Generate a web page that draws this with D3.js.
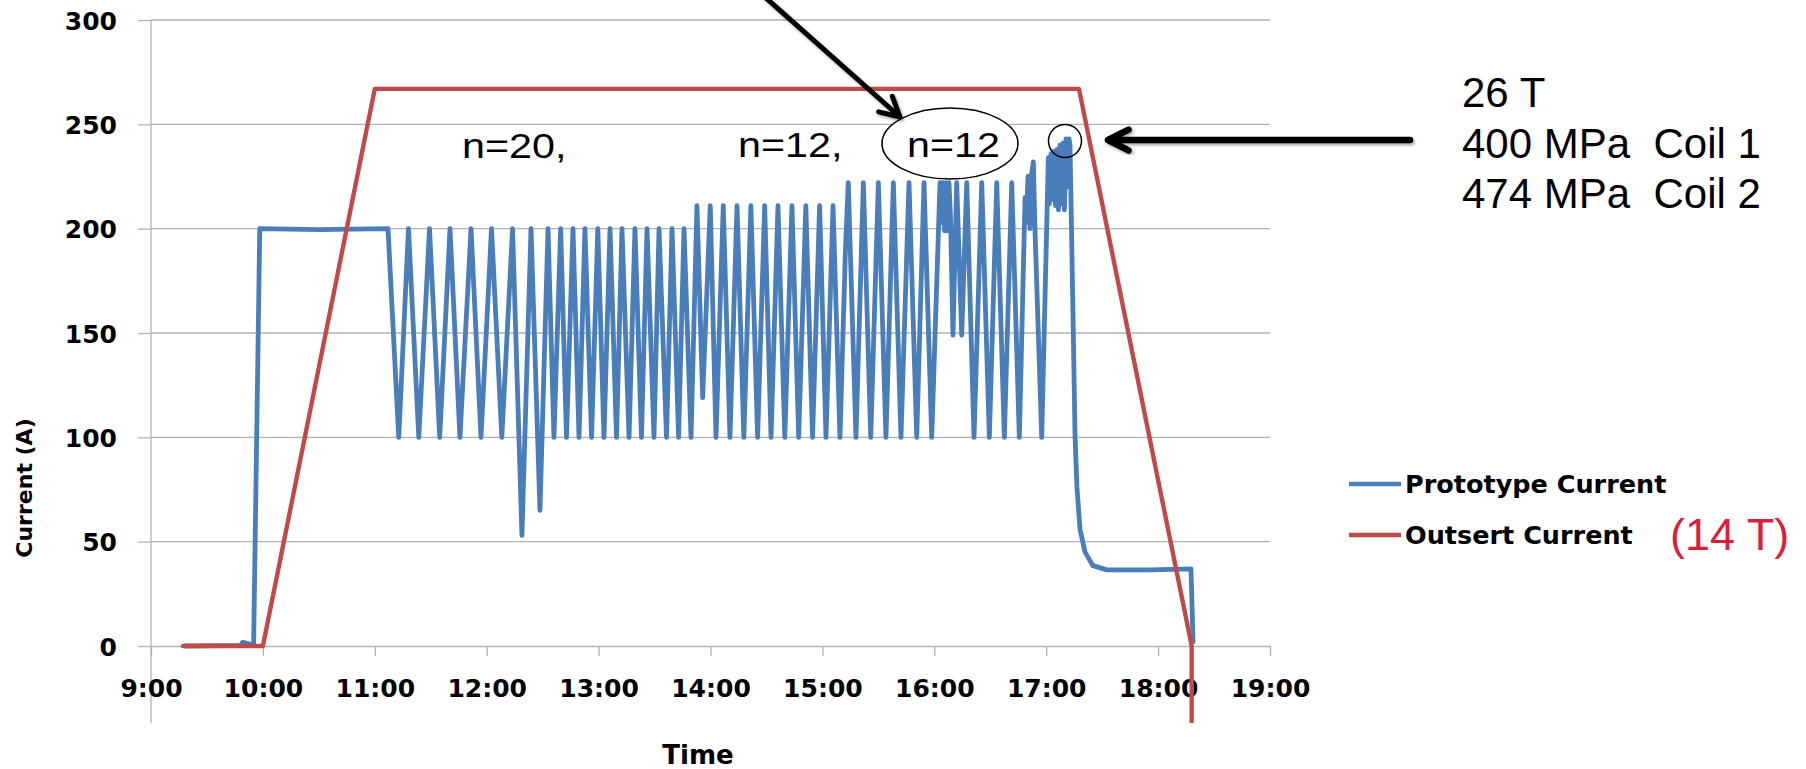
<!DOCTYPE html>
<html>
<head>
<meta charset="utf-8">
<script src="https://cdn.jsdelivr.net/npm/d3@7"></script>
<style>
  body { margin: 0; background: #fff; }
  svg { display: block; }
</style>
</head>
<body>
<div id="chart"></div>
<script>
// time of day in decimal hours, current in A
const protoTime = [
  9.304, 9.800, 9.820, 9.890, 9.917, 9.972, 10.5, 11.118,
  11.214, 11.301, 11.393, 11.489, 11.580, 11.672, 11.761, 11.860, 11.949, 12.043,
  12.135, 12.231, 12.315, 12.396, 12.476, 12.548, 12.601, 12.661, 12.713, 12.771,
  12.825, 12.878, 12.937, 12.993, 13.048, 13.102, 13.160, 13.209, 13.272, 13.325,
  13.383, 13.433, 13.495, 13.540, 13.607, 13.656, 13.715, 13.763, 13.826,
  13.879, 13.930, 13.998, 14.049, 14.114, 14.174, 14.237, 14.298, 14.361, 14.421, 14.484,
  14.541, 14.603, 14.664, 14.728, 14.788, 14.852, 14.912, 14.975, 15.032, 15.095, 15.157,
  15.206, 15.231, 15.300, 15.366, 15.432, 15.500, 15.568, 15.634, 15.702, 15.774, 15.843, 15.908, 15.977,
  16.051, 16.064, 16.078, 16.091, 16.105, 16.118, 16.131, 16.145, 16.167, 16.200, 16.245, 16.290,
  16.355, 16.424, 16.492, 16.558, 16.626, 16.692, 16.760,
  16.811, 16.824, 16.837, 16.855, 16.869, 16.885, 16.900, 16.960,
  17.019, 17.030, 17.043, 17.057, 17.070, 17.083, 17.097, 17.110, 17.123, 17.137, 17.150, 17.163, 17.177, 17.190, 17.204,
  17.213, 17.239, 17.258, 17.275, 17.302, 17.347, 17.418, 17.543, 17.928, 18.294, 18.312
];
const protoCurrent = [
  0, 0.3, 1.8, 0.8, 0.5, 200, 199.5, 200,
  100, 200, 100, 200, 100, 200, 100, 200, 100, 200,
  100, 200, 53, 200, 65, 200, 100, 200, 100, 200,
  100, 200, 100, 200, 100, 200, 100, 200, 100, 200,
  100, 200, 100, 200, 100, 200, 100, 200, 100,
  211, 119, 211, 100, 211, 100, 211, 100, 211, 100, 211,
  100, 211, 100, 211, 100, 211, 100, 211, 100, 211, 100,
  190, 222, 100, 222, 100, 222, 100, 222, 100, 222, 100, 222, 100,
  222, 203, 222, 199, 222, 199, 222, 205, 149, 222, 149, 222,
  100, 222, 100, 222, 100, 222, 100,
  215, 203, 225, 200, 226, 232, 199, 100,
  234, 212, 236, 214, 237, 211, 238, 209, 240, 212, 241, 209, 243, 220, 243,
  240, 160, 100, 76, 56, 45, 38.5, 36.5, 36.5, 37, 2
];
const outsertTime = [9.286, 10.0, 11.0, 17.293, 18.30, 18.30];
const outsertCurrent = [0, 0, 267, 267, 0, -45];

const hourTicks = [9, 10, 11, 12, 13, 14, 15, 16, 17, 18, 19];
const currentTicks = [0, 50, 100, 150, 200, 250, 300];
const seriesNames = ['Prototype Current', 'Outsert Current'];
const seriesColors = ['#4a7ebb', '#be4b48'];

const width = 1806, height = 769;
const plot = {left: 151, right: 1270, top: 20, zero: 646, bottom: 723};
const gridColor = '#b3b3b3';
const labelFont = "'DejaVu Sans', sans-serif";
const noteFont = "'Liberation Sans', Arial, sans-serif";

const x = d3.scaleLinear().domain([9, 19]).range([plot.left, plot.right]);
const y = d3.scaleLinear().domain([0, 300]).range([plot.zero, plot.top]);

const svg = d3.select('#chart').append('svg')
  .attr('width', width)
  .attr('height', height);

const defs = svg.append('defs');
defs.append('clipPath').attr('id', 'plotClip')
  .append('rect')
  .attr('x', plot.left).attr('y', 0)
  .attr('width', plot.right - plot.left).attr('height', plot.bottom);
defs.append('filter').attr('id', 'shadow')
  .attr('x', '-20%').attr('y', '-20%').attr('width', '140%').attr('height', '140%')
  .append('feDropShadow')
  .attr('dx', 1.5).attr('dy', 2).attr('stdDeviation', 1.5)
  .attr('flood-color', '#000').attr('flood-opacity', 0.35);

// gridlines
svg.append('g')
  .selectAll('line')
  .data(currentTicks.filter(v => v > 0))
  .join('line')
  .attr('x1', plot.left).attr('x2', plot.right)
  .attr('y1', d => y(d)).attr('y2', d => y(d))
  .attr('stroke', gridColor).attr('stroke-width', 1.3);

// y axis
const yAxis = svg.append('g')
  .attr('transform', 'translate(' + plot.left + ',0)')
  .call(d3.axisLeft(y).tickValues(currentTicks).tickSize(13).tickPadding(21).tickSizeOuter(0));
yAxis.select('.domain').remove();
yAxis.selectAll('line').attr('stroke', gridColor).attr('stroke-width', 1.3);
yAxis.selectAll('text')
  .attr('dy', '0.36em')
  .style('font-family', labelFont).style('font-weight', 'bold')
  .style('font-size', '25px').style('fill', '#000');

svg.append('line')
  .attr('x1', plot.left).attr('x2', plot.left)
  .attr('y1', plot.top).attr('y2', plot.bottom)
  .attr('stroke', gridColor).attr('stroke-width', 1.3);

// x axis
const xAxis = svg.append('g')
  .attr('transform', 'translate(0,' + plot.zero + ')')
  .call(d3.axisBottom(x).tickValues(hourTicks).tickFormat(d => d + ':00')
    .tickSize(10).tickPadding(23).tickSizeOuter(0));
xAxis.select('.domain').attr('stroke', gridColor).attr('stroke-width', 1.3);
xAxis.selectAll('line').attr('stroke', gridColor).attr('stroke-width', 1.3);
xAxis.selectAll('text')
  .style('font-family', labelFont).style('font-weight', 'bold')
  .style('font-size', '25px').style('fill', '#000');

// axis titles
svg.append('text')
  .attr('transform', 'translate(32,488) rotate(-90)')
  .attr('text-anchor', 'middle')
  .style('font-family', labelFont).style('font-weight', 'bold').style('font-size', '22px')
  .text('Current (A)');
svg.append('text')
  .attr('x', 698).attr('y', 764)
  .attr('text-anchor', 'middle')
  .style('font-family', labelFont).style('font-weight', 'bold').style('font-size', '26px')
  .text('Time');

// series
const line = d3.line()
  .x(d => x(d[0]))
  .y(d => y(d[1]));

const lines = svg.append('g').attr('clip-path', 'url(#plotClip)');
lines.append('path')
  .datum(d3.zip(protoTime, protoCurrent))
  .attr('d', line)
  .attr('fill', 'none')
  .attr('stroke', seriesColors[0]).attr('stroke-width', 4.8)
  .attr('stroke-linejoin', 'round').attr('stroke-linecap', 'round');
lines.append('path')
  .datum(d3.zip(outsertTime, outsertCurrent))
  .attr('d', line)
  .attr('fill', 'none')
  .attr('stroke', seriesColors[1]).attr('stroke-width', 4.4)
  .attr('stroke-linejoin', 'round').attr('stroke-linecap', 'round');

// legend
const legend = svg.append('g').selectAll('g')
  .data(seriesNames)
  .join('g')
  .attr('transform', (d, i) => 'translate(1349,' + (484 + i * 51) + ')');
legend.append('line')
  .attr('x1', 0).attr('x2', 52)
  .attr('stroke', (d, i) => seriesColors[i]).attr('stroke-width', 4.5);
legend.append('text')
  .attr('x', 56).attr('dy', '0.36em')
  .style('font-family', labelFont).style('font-weight', 'bold').style('font-size', '25.5px')
  .text(d => d);

// annotations
function stretchedText(x0, y0, txt) {
  svg.append('text')
    .attr('transform', 'translate(' + x0 + ',' + y0 + ') scale(1.18,1)')
    .style('font-family', noteFont).style('font-size', '35px')
    .text(txt);
}
svg.append('ellipse')
  .attr('cx', 950).attr('cy', 143.5).attr('rx', 68).attr('ry', 35.5)
  .attr('fill', '#fff').attr('stroke', '#000').attr('stroke-width', 1.6);
stretchedText(462, 158, 'n=20,');
stretchedText(738, 157, 'n=12,');
stretchedText(907, 157, 'n=12');

svg.append('circle')
  .attr('cx', 1065).attr('cy', 141).attr('r', 16.5)
  .attr('fill', 'none').attr('stroke', '#000').attr('stroke-width', 1.5);

function arrow(x1, y1, x2, y2, headLen, angleDeg, w) {
  const a = Math.atan2(y1 - y2, x1 - x2);
  const t = angleDeg * Math.PI / 180;
  const p1 = [x2 + headLen * Math.cos(a + t), y2 + headLen * Math.sin(a + t)];
  const p2 = [x2 + headLen * Math.cos(a - t), y2 + headLen * Math.sin(a - t)];
  const g = svg.append('g').attr('filter', 'url(#shadow)');
  g.append('path')
    .attr('d', 'M' + x1 + ',' + y1 + 'L' + x2 + ',' + y2 +
      'M' + p1[0] + ',' + p1[1] + 'L' + x2 + ',' + y2 + 'L' + p2[0] + ',' + p2[1])
    .attr('fill', 'none').attr('stroke', '#000').attr('stroke-width', w)
    .attr('stroke-linecap', 'round').attr('stroke-linejoin', 'round');
}
arrow(757, -10, 900, 117, 22, 28, 5);
arrow(1410, 140, 1108, 140, 23, 27, 6.5);

const notes = ['26 T', '400 MPa  Coil 1', '474 MPa  Coil 2'];
svg.append('g').selectAll('text')
  .data(notes)
  .join('text')
  .attr('x', 1462).attr('y', (d, i) => 107 + i * 50.5)
  .attr('xml:space', 'preserve')
  .style('white-space', 'pre')
  .style('font-family', noteFont).style('font-size', '42px')
  .text(d => d);

svg.append('text')
  .attr('x', 1670).attr('y', 550)
  .style('font-family', noteFont).style('font-size', '45px')
  .style('fill', '#dc1e3c')
  .text('(14 T)');
</script>
</body>
</html>
